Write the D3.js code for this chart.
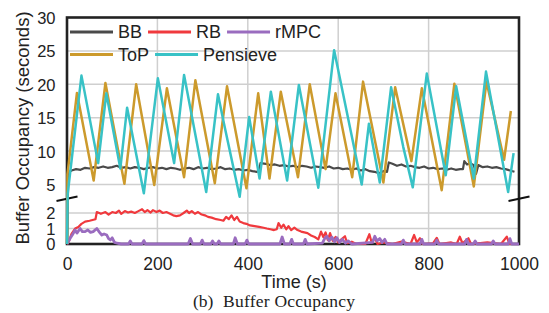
<!DOCTYPE html>
<html>
<head>
<meta charset="utf-8">
<script src="https://cdn.jsdelivr.net/npm/d3@7/dist/d3.min.js"></script>
<style>
  body { margin: 0; background: #fff; }
  svg { display: block; font-family: "Liberation Sans", Arial, sans-serif; }
</style>
</head>
<body>
<svg id="chart" width="549" height="313"></svg>
<script>
// ---- data (time in s, buffer in s) ----
var seriesNames = ["BB", "RB", "rMPC", "ToP", "Pensieve"];
var seriesColors = ["#4a4a4a", "#f0393d", "#9a6cbf", "#cc9a2c", "#38c2c6"];
var xTicks = [0, 200, 400, 600, 800, 1000];
var yTicks = [0, 1, 2, 5, 10, 15, 20, 25, 30];

var bbPoints = [[0,0],[3,6.8],[10,7.1],[20,7.3],[30,7.2],[40,7.5],[50,7.4],[60,7.6],[70,7.5],[80,7.7],[90,7.5],
  [100,7.6],[110,7.8],[120,7.5],[130,7.6],[140,7.4],[150,7.6],[160,7.5],[170,7.3],[180,7.5],[190,7.6],
  [200,7.4],[210,7.5],[220,7.3],[230,7.5],[240,7.4],[250,7.2],[260,7.4],[270,7.5],[280,7.3],[290,7.6],
  [300,7.4],[310,7.5],[320,7.3],[330,7.4],[340,7.6],[350,7.3],[360,7.4],[370,7.2],[380,7.3],[390,7.1],
  [400,7.2],[410,7.0],[420,6.9],[425,7.0],[428,8.2],[440,8.1],[450,7.9],[460,8.0],[470,7.8],[480,7.9],
  [490,7.7],[500,7.8],[510,7.6],[520,7.8],[530,7.7],[540,7.5],[550,7.7],[560,7.6],[570,7.5],[580,7.7],
  [590,7.4],[600,7.5],[610,7.3],[620,7.4],[630,7.2],[640,7.4],[650,7.1],[660,7.3],[670,7.0],[680,6.9],
  [690,6.7],[700,7.0],[708,6.9],[712,8.3],[720,8.1],[730,7.8],[740,8.0],[750,7.7],[760,7.8],[770,7.6],
  [780,7.5],[790,7.7],[800,7.4],[810,7.5],[820,7.3],[830,7.4],[840,7.2],[850,7.4],[860,7.2],[870,7.3],
  [876,7.3],[879,8.5],[885,8.0],[892,8.2],[900,7.9],[905,6.6],[910,7.9],[920,7.6],[930,7.7],[940,7.5],
  [950,7.6],[960,7.4],[970,7.3],[980,7.1],[990,6.9]];

var rbPoints = [[0,0],[4,0.15],[10,0.65],[18,1.0],[25,1.1],[32,1.3],[40,1.44],[50,1.5],[63,1.6],[66,2.1],
  [75,1.95],[85,2.1],[92,1.9],[100,2.1],[108,2.0],[115,2.25],[120,1.95],[128,2.2],[135,2.05],[142,2.15],
  [150,2.0],[158,2.2],[166,2.4],[172,2.1],[178,2.3],[185,2.05],[190,2.3],[198,2.1],[205,2.25],[212,2.0],
  [220,2.1],[228,1.95],[235,1.85],[242,1.8],[250,1.85],[258,2.0],[265,2.25],[270,2.0],[276,2.2],[283,1.95],
  [290,2.1],[298,1.9],[305,1.85],[312,1.75],[320,1.7],[330,1.6],[340,1.55],[346,1.5],[352,1.75],[358,1.6],
  [364,1.85],[370,1.55],[376,1.75],[382,1.45],[390,1.35],[397,1.3],[405,1.2],[415,1.15],[425,1.1],[435,1.05],
  [442,1.0],[450,0.95],[458,0.9],[464,0.95],[468,1.35],[474,1.05],[479,1.25],[485,0.95],[490,1.15],[496,0.9],
  [503,1.05],[510,0.9],[518,0.8],[525,0.75],[532,0.7],[540,0.55],[548,0.45],[556,0.3],[562,0.8],[567,0.45],
  [572,0.75],[577,0.25],[582,0.7],[588,0.2],[594,0.45],[600,0.1],[607,0.3],[615,0.5],[620,0.05],[630,0.15],
  [640,0],[660,0],[669,0.63],[674,0.1],[681,0.4],[687,0],[700,0.1],[720,0],[740,0.15],[760,0],[768,0.58],
  [774,0.1],[781,0.37],[787,0],[810,0.05],[818,0.4],[824,0],[850,0.1],[862,0],[869,0.47],[875,0.05],
  [888,0.37],[894,0],[930,0.1],[960,0],[973,0.47],[979,0],[1000,0]];

var rmpcPoints = [[0,0],[7,0.37],[12,0.6],[18,0.9],[22,0.7],[29,1.0],[34,0.8],[40,0.8],[46,0.9],[52,0.75],
  [58,0.8],[66,1.0],[72,0.75],[77,0.58],[82,0.65],[88,0.58],[92,0.35],[96,0.26],[100,0.4],[105,0.1],
  [111,0.05],[120,0],[136,0],[140,0.2],[144,0],[166,0],[170,0.22],[174,0],[268,0],[273,0.35],[278,0],
  [295,0],[299,0.25],[303,0],[318,0],[322,0.2],[326,0],[332,0],[336,0.2],[340,0],[368,0],[372,0.4],[377,0],
  [394,0],[398,0.25],[402,0],[471,0],[476,0.45],[481,0],[493,0],[497,0.3],[501,0],[523,0],[527,0.3],[531,0],
  [565,0.05],[570,0.35],[575,0.5],[580,0.2],[586,0.45],[592,0.15],[597,0.4],[603,0.1],[609,0.3],[616,0.05],
  [622,0.2],[630,0],[676,0.1],[681,0.5],[686,0.2],[692,0.35],[697,0.1],[703,0.3],[708,0],[740,0],
  [744,0.25],[748,0],[781,0],[785,0.3],[789,0],[814,0],[818,0.25],[822,0],[880,0],[884,0.3],[888,0],
  [899,0],[903,0.2],[907,0],[939,0],[943,0.2],[947,0],[976,0],[980,0.35],[984,0],[1000,0]];

var topPoints = [[0,0],[1,6.5],[22,18.7],[59,5.6],[85,20.2],[127,5.1],[153,20.0],[193,4.95],[221,19.4],
  [259,6.1],[284,20.6],[327,5.2],[354,19.7],[397,4.6],[423,18.65],[448,5.9],[473,18.9],[511,6.1],
  [537,20.0],[572,7.3],[594,18.65],[631,6.1],[655,20.4],[700,5.3],[726,19.55],[762,8.5],[785,19.4],
  [829,4.4],[857,20.1],[900,4.8],[928,20.4],[967,8.7],[982,16.0]];

var pensievePoints = [[0,0],[1.5,4],[32,21.3],[69,8.2],[87,18.65],[118,7.4],[133,16.5],[170,4.07],
  [201,20.9],[237,8.2],[259,21.4],[308,4.2],[334,18.5],[347,14.2],[382,3.7],[403,15.1],[426,5.9],
  [451,18.9],[487,5.6],[513,19.9],[556,4.66],[591,25.1],[652,5.0],[668,14.1],[692,5.3],[717,19.55],
  [744,10.6],[765,4.7],[796,21.6],[838,6.4],[861,19.7],[900,5.9],[927,21.9],[976,4.2],[988,9.7]];

var seriesData = [bbPoints, rbPoints, rmpcPoints, topPoints, pensievePoints];
var seriesWidths = [2.2, 2.2, 2.8, 2.5, 2.5];

// ---- layout ----
var svg = d3.select("#chart");
var plotLeft = 67, plotRight = 519, plotTop = 17.5, plotBottom = 244;

var x = d3.scaleLinear().domain([0, 1000]).range([plotLeft, plotRight]);
// broken axis: 0-2 in the lower band, 5-30 in the upper band
var y = d3.scaleLinear().domain([0, 2, 5, 30]).range([plotBottom, 213, 184.5, plotTop]);

// grid
svg.append("g")
    .selectAll("line")
    .data(xTicks.filter(function(d) { return d > 0 && d < 1000; }))
    .enter().append("line")
    .attr("x1", function(d) { return x(d); })
    .attr("x2", function(d) { return x(d); })
    .attr("y1", plotTop)
    .attr("y2", plotBottom)
    .attr("stroke", "#cfcfcf")
    .attr("stroke-width", 1.5);

svg.append("g")
    .selectAll("line")
    .data(yTicks.filter(function(d) { return d > 0 && d < 30; }))
    .enter().append("line")
    .attr("x1", plotLeft)
    .attr("x2", plotRight)
    .attr("y1", function(d) { return y(d); })
    .attr("y2", function(d) { return y(d); })
    .attr("stroke", "#cfcfcf")
    .attr("stroke-width", 1.5);

// axes (labels only, no tick marks)
var yAxis = svg.append("g")
    .attr("transform", "translate(" + (plotLeft - 11.5) + ",0)")
    .call(d3.axisLeft(y).tickValues(yTicks).tickSize(0).tickPadding(0).tickFormat(d3.format("d")));
yAxis.select(".domain").remove();
yAxis.selectAll("text")
    .attr("font-size", 16.5)
    .attr("font-family", "Liberation Sans, Arial, sans-serif")
    .attr("fill", "#222")
    .attr("dy", "0.36em");

var xAxis = svg.append("g")
    .attr("transform", "translate(0," + plotBottom + ")")
    .call(d3.axisBottom(x).tickValues(xTicks).tickSize(0).tickPadding(0).tickFormat(d3.format("d")));
xAxis.select(".domain").remove();
xAxis.selectAll("text")
    .attr("font-size", 17.5)
    .attr("font-family", "Liberation Sans, Arial, sans-serif")
    .attr("fill", "#222")
    .attr("dy", null)
    .attr("y", 26);

// frame
svg.append("rect")
    .attr("x", plotLeft)
    .attr("y", plotTop)
    .attr("width", plotRight - plotLeft)
    .attr("height", plotBottom - plotTop)
    .attr("fill", "none")
    .attr("stroke", "#222")
    .attr("stroke-width", 2.6);

// break marks
[plotLeft, plotRight].forEach(function(px) {
    svg.append("line")
        .attr("x1", px - 10.5).attr("y1", 201)
        .attr("x2", px + 10.5).attr("y2", 196.5)
        .attr("stroke", "#111")
        .attr("stroke-width", 2);
});

// series
var line = d3.line()
    .x(function(d) { return x(d[0]); })
    .y(function(d) { return y(d[1]); });

seriesData.forEach(function(pts, i) {
    svg.append("path")
        .datum(pts)
        .attr("d", line)
        .attr("fill", "none")
        .attr("stroke", seriesColors[i])
        .attr("stroke-width", seriesWidths[i])
        .attr("stroke-linejoin", "round");
});

// legend, two rows that flow left to right
var legendRows = [[0, 1, 2], [3, 4]];
var rowY = [32, 54.5];
var legend = svg.append("g").attr("font-size", 18).attr("fill", "#222");
legendRows.forEach(function(row, r) {
    var cx = 70;
    row.forEach(function(k) {
        legend.append("line")
            .attr("x1", cx).attr("x2", cx + 43)
            .attr("y1", rowY[r]).attr("y2", rowY[r])
            .attr("stroke", seriesColors[k])
            .attr("stroke-width", 2.8);
        var t = legend.append("text")
            .attr("x", cx + 48)
            .attr("y", rowY[r])
            .attr("dy", "0.35em")
            .text(seriesNames[k]);
        cx = cx + 48 + t.node().getComputedTextLength() + 6;
    });
});

// titles
svg.append("text")
    .attr("transform", "translate(28.5,128) rotate(-90)")
    .attr("text-anchor", "middle")
    .attr("font-size", 18.5)
    .attr("fill", "#222")
    .text("Buffer Occupancy (seconds)");

svg.append("text")
    .attr("x", 294)
    .attr("y", 287.5)
    .attr("text-anchor", "middle")
    .attr("font-size", 18)
    .attr("fill", "#222")
    .text("Time (s)");

var caption = svg.append("g")
    .attr("font-family", "Liberation Serif, Times New Roman, serif")
    .attr("font-size", 17.5)
    .attr("fill", "#222");
caption.append("text").attr("x", 193).attr("y", 306.5).text("(b)");
caption.append("text").attr("x", 223).attr("y", 306.5)
    .attr("textLength", 132).attr("lengthAdjust", "spacing")
    .text("Buffer Occupancy");
</script>
</body>
</html>
